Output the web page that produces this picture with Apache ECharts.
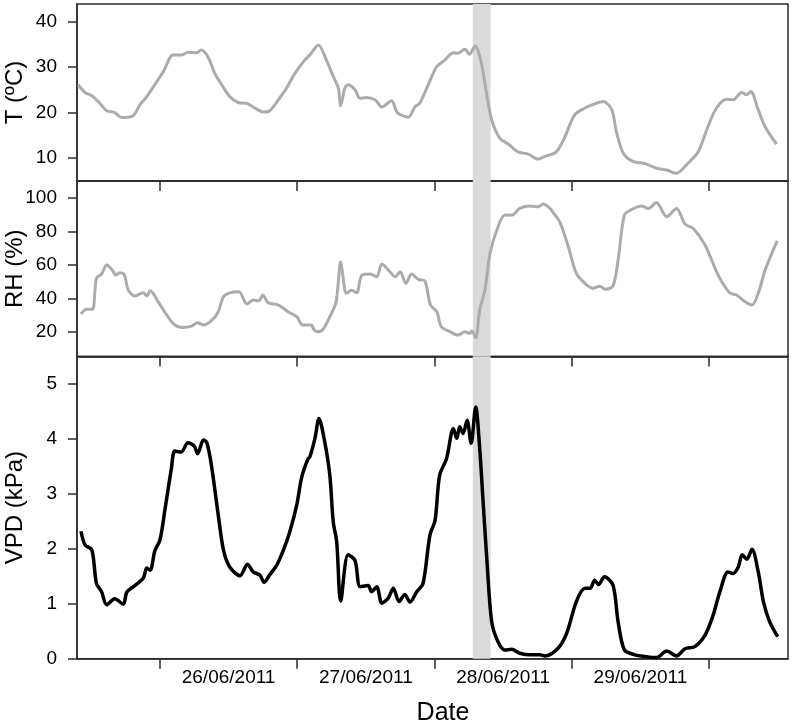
<!DOCTYPE html>
<html>
<head>
<meta charset="utf-8">
<script src="https://cdn.jsdelivr.net/npm/echarts@6/dist/echarts.min.js"></script>
<style>
  html, body { margin: 0; padding: 0; background: #fff; }
  #chart { width: 793px; height: 726px; }
</style>
</head>
<body>
<div id="chart"></div>
<script>
// hours since 26/06/2011 00:00
var tHours = [-14.3, -13.1, -11.9, -10.5, -9.3, -7.9, -6.7, -4.7, -3.5, -2.3, -0.9, 0.6, 2.3, 3.8, 4.9, 6.4, 7.2, 8.4, 9.6, 10.8, 12.2, 13.7, 15.2, 16.6, 18.1, 19.2, 20.7, 22.1, 23.6, 25.3, 26.2, 27.7, 29.1, 30.3, 31.2, 31.6, 32.3, 32.9, 34.1, 35.0, 36.1, 37.6, 38.8, 40.5, 41.5, 43.4, 44.6, 45.4, 46.9, 48.4, 49.8, 51.3, 52.1, 53.3, 54.1, 55.1, 56.2, 57.1, 58.0, 59.4, 60.9, 62.6, 64.4, 66.1, 67.3, 69.3, 70.8, 72.5, 74.3, 76.0, 77.5, 79.0, 79.8, 81.0, 82.7, 84.8, 86.8, 88.6, 90.3, 92.3, 94.1, 95.8, 97.3, 99.1, 100.2, 101.7, 102.6, 103.3, 104.6, 105.8, 107.8];
var tValues = [26.1, 24.4, 23.7, 22.0, 20.4, 20.0, 18.9, 19.3, 21.7, 23.5, 26.1, 29.0, 32.6, 32.6, 33.2, 33.1, 33.7, 32.2, 28.6, 26.1, 23.5, 22.2, 22.0, 21.0, 20.1, 20.4, 22.8, 25.3, 28.6, 31.5, 32.6, 34.8, 31.5, 27.9, 25.3, 21.5, 25.3, 26.1, 25.0, 23.1, 23.3, 22.8, 21.2, 22.6, 20.0, 19.0, 21.3, 22.0, 26.1, 30.1, 31.5, 33.1, 33.0, 33.9, 32.8, 34.6, 30.8, 24.2, 18.4, 14.4, 13.1, 11.4, 10.9, 9.8, 10.4, 11.4, 14.7, 19.5, 21.0, 21.9, 22.4, 20.6, 15.8, 11.1, 9.3, 8.8, 7.8, 7.4, 6.7, 8.9, 11.4, 16.9, 21.0, 22.9, 22.8, 24.4, 23.9, 24.6, 20.6, 16.9, 13.1];

var rhHours = [-13.8, -12.8, -11.8, -11.1, -10.2, -9.3, -8.4, -7.7, -7.0, -6.2, -5.6, -4.4, -2.9, -2.3, -1.7, -0.3, 1.2, 2.6, 4.1, 5.5, 6.6, 7.6, 9.0, 10.2, 11.1, 12.2, 13.8, 15.2, 16.3, 17.3, 18.0, 18.9, 20.7, 22.4, 23.9, 25.0, 26.5, 26.8, 27.4, 28.5, 29.7, 30.8, 31.6, 32.0, 32.6, 33.5, 34.4, 35.3, 36.7, 37.9, 38.8, 40.2, 41.1, 42.0, 43.0, 44.0, 45.2, 46.3, 47.3, 48.4, 49.2, 50.7, 52.1, 53.3, 54.1, 54.5, 55.2, 55.9, 56.8, 57.7, 58.9, 60.3, 61.5, 62.9, 64.7, 66.1, 67.0, 68.2, 68.8, 69.9, 71.4, 72.8, 74.3, 75.7, 76.9, 77.8, 79.2, 80.1, 81.2, 82.5, 84.2, 85.4, 86.8, 88.6, 90.3, 91.8, 93.2, 95.3, 97.6, 99.6, 100.8, 102.3, 103.5, 104.6, 105.8, 107.9];
var rhValues = [30.6, 33.4, 33.4, 52.0, 54.5, 59.9, 57.3, 53.9, 55.3, 53.9, 45.4, 41.4, 43.3, 41.4, 44.5, 37.9, 30.0, 24.0, 22.6, 23.4, 25.4, 24.0, 26.6, 32.0, 40.9, 43.3, 43.9, 36.6, 39.0, 38.5, 42.0, 37.3, 36.0, 32.0, 29.0, 24.0, 24.0, 22.0, 20.0, 21.4, 29.0, 37.9, 61.9, 52.9, 43.0, 44.9, 43.3, 53.9, 54.5, 52.9, 60.5, 55.9, 52.9, 55.9, 49.0, 54.5, 51.3, 50.5, 36.0, 32.0, 23.0, 20.0, 18.0, 20.0, 19.0, 20.4, 16.4, 33.0, 44.9, 66.9, 80.9, 89.8, 89.8, 93.8, 95.2, 94.8, 96.4, 93.8, 91.0, 85.8, 70.9, 54.9, 49.0, 46.0, 47.3, 45.4, 47.3, 62.9, 89.8, 93.2, 95.2, 93.8, 97.4, 88.8, 93.8, 84.4, 81.9, 71.9, 53.9, 43.3, 42.0, 37.9, 36.0, 43.0, 56.9, 74.4];

var vpdHours = [-13.8, -13.1, -11.9, -11.1, -10.2, -9.3, -7.9, -6.4, -5.8, -4.4, -2.9, -2.3, -1.7, -0.9, 0, 0.9, 2.0, 2.6, 3.7, 4.9, 6.0, 6.6, 7.6, 8.2, 9.0, 10.2, 11.1, 12.2, 14.0, 15.3, 16.3, 17.5, 18.2, 19.2, 20.4, 21.6, 22.7, 23.9, 24.8, 25.9, 26.2, 27.1, 27.8, 28.8, 29.7, 30.3, 30.9, 31.6, 32.9, 34.1, 35.0, 36.4, 37.0, 37.9, 38.8, 39.9, 40.8, 41.8, 42.8, 43.7, 44.9, 46.0, 47.2, 48.1, 48.9, 50.1, 51.3, 51.9, 52.4, 53.0, 53.7, 54.4, 55.2, 55.9, 56.5, 57.1, 58.0, 59.1, 60.3, 61.5, 62.9, 64.7, 66.4, 67.3, 69.6, 71.1, 72.8, 74.3, 75.2, 76.0, 76.7, 77.7, 79.2, 80.1, 81.2, 83.0, 84.8, 86.8, 88.6, 90.3, 91.8, 93.5, 95.3, 96.7, 97.9, 99.3, 100.2, 101.1, 101.8, 102.6, 103.5, 104.6, 105.5, 106.6, 108.0];
var vpdValues = [2.32, 2.07, 1.98, 1.37, 1.22, 0.98, 1.09, 0.99, 1.21, 1.33, 1.47, 1.65, 1.61, 1.96, 2.16, 2.73, 3.46, 3.78, 3.76, 3.93, 3.87, 3.73, 3.98, 3.93, 3.52, 2.61, 1.98, 1.67, 1.51, 1.72, 1.58, 1.52, 1.39, 1.53, 1.70, 1.98, 2.31, 2.79, 3.31, 3.64, 3.67, 4.01, 4.37, 3.95, 3.34, 2.49, 2.13, 1.05, 1.89, 1.79, 1.31, 1.33, 1.22, 1.31, 1.01, 1.10, 1.28, 1.04, 1.17, 1.03, 1.22, 1.37, 2.25, 2.52, 3.34, 3.64, 4.19, 4.01, 4.22, 4.10, 4.34, 3.92, 4.58, 3.83, 2.85, 1.89, 0.67, 0.31, 0.16, 0.17, 0.10, 0.07, 0.07, 0.05, 0.19, 0.46, 1.04, 1.28, 1.28, 1.43, 1.35, 1.49, 1.34, 0.67, 0.16, 0.07, 0.04, 0.02, 0.14, 0.05, 0.18, 0.22, 0.43, 0.79, 1.22, 1.58, 1.55, 1.67, 1.89, 1.81, 1.99, 1.58, 1.04, 0.67, 0.40];

var dayTicks = [0, 24, 48, 72, 96];
var dayLabels = [12, 36, 60, 84];
var tTicks = [10, 20, 30, 40];
var rhTicks = [20, 40, 60, 80, 100];
var vpdTicks = [0, 1, 2, 3, 4, 5];
var shadeHours = [54.7, 57.8];

function zip(xs, ys) {
    return xs.map(function (x, i) { return [x, ys[i]]; });
}

function dateLabel(v) {
    var d = 26 + Math.floor(v / 24);
    return d + '/06/2011';
}

var font = 'Liberation Sans, Arial, sans-serif';
var axisColor = '#2b2b2b';

function xAxisFor(idx) {
    return {
        type: 'value',
        gridIndex: idx,
        min: -14.5,
        max: 109.8,
        axisLine: { onZero: false, lineStyle: { color: axisColor, width: 1.5 } },
        axisTick: { customValues: dayTicks, length: 10, lineStyle: { color: axisColor, width: 1.5 } },
        axisLabel: {
            show: idx === 2,
            customValues: dayLabels,
            formatter: dateLabel,
            margin: 10,
            fontSize: 19,
            color: '#000',
            fontFamily: font
        },
        splitLine: { show: false },
        name: idx === 2 ? 'Date' : '',
        nameLocation: 'middle',
        nameGap: 42,
        nameMoveOverlap: false,
        nameTextStyle: { fontSize: 25, color: '#000', fontFamily: font, padding: [0, 0, 0, 21] }
    };
}

function yAxisFor(idx, name, min, max, ticks) {
    return {
        type: 'value',
        gridIndex: idx,
        min: min,
        max: max,
        axisLine: { onZero: false, lineStyle: { color: axisColor, width: 1.5 } },
        axisTick: { customValues: ticks, length: 9, lineStyle: { color: axisColor, width: 1.5 } },
        axisLabel: { customValues: ticks, margin: 20, fontSize: 19, color: '#000', fontFamily: font },
        splitLine: { show: false },
        name: name,
        nameLocation: 'middle',
        nameGap: 50,
        nameMoveOverlap: false,
        nameTextStyle: { fontSize: 24, color: '#000', fontFamily: font }
    };
}

function shade() {
    return {
        silent: true,
        itemStyle: { color: '#dadada' },
        data: [[{ xAxis: shadeHours[0] }, { xAxis: shadeHours[1] }]]
    };
}

function gridAt(top, height) {
    return {
        left: 77, right: 5, top: top, height: height,
        outerBoundsMode: 'none', containLabel: false,
        show: true, borderColor: axisColor, borderWidth: 1.5
    };
}

var chart = echarts.init(document.getElementById('chart'), null, { renderer: 'canvas' });

var option = {
    animation: false,
    backgroundColor: '#fff',
    grid: [gridAt(4, 177), gridAt(181, 175.5), gridAt(356.5, 302.2)],
    xAxis: [xAxisFor(0), xAxisFor(1), xAxisFor(2)],
    yAxis: [
        yAxisFor(0, 'T (ºC)', 5, 43.8, tTicks),
        yAxisFor(1, 'RH (%)', 5.2, 110.2, rhTicks),
        yAxisFor(2, 'VPD (kPa)', 0, 5.5, vpdTicks)
    ],
    series: [
        {
            name: 'T', type: 'line', xAxisIndex: 0, yAxisIndex: 0,
            data: zip(tHours, tValues), showSymbol: false, smooth: 0.3,
            lineStyle: { color: '#ababab', width: 3 },
            markArea: shade()
        },
        {
            name: 'RH', type: 'line', xAxisIndex: 1, yAxisIndex: 1,
            data: zip(rhHours, rhValues), showSymbol: false, smooth: 0.3,
            lineStyle: { color: '#ababab', width: 3 },
            markArea: shade()
        },
        {
            name: 'VPD', type: 'line', xAxisIndex: 2, yAxisIndex: 2,
            data: zip(vpdHours, vpdValues), showSymbol: false, smooth: 0.3,
            lineStyle: { color: '#000', width: 3.5 },
            markArea: shade()
        }
    ]
};

chart.setOption(option);
</script>
</body>
</html>
